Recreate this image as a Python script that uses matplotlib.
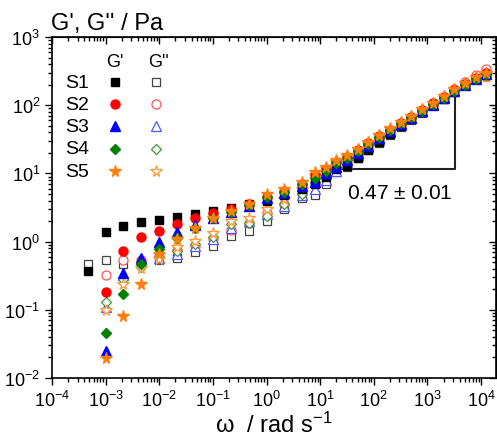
import numpy as np
import matplotlib
matplotlib.use("Agg")
import matplotlib.pyplot as plt

plt.rcParams["font.family"] = ["Liberation Sans", "DejaVu Sans"]
plt.rcParams["mathtext.fontset"] = "custom"
plt.rcParams["mathtext.rm"] = "Liberation Sans"
plt.rcParams["mathtext.it"] = "Liberation Sans:italic"
plt.rcParams["mathtext.default"] = "regular"

nan = np.nan

# angular frequency (rad/s): low-frequency sweep + high-frequency sweep
omega = [4.64e-4, 1e-3, 2.15e-3, 4.64e-3, 1e-2, 2.15e-2, 4.64e-2, 0.1, 0.215, 0.464,
         1.0, 2.15, 4.64,
         7.9, 12.6, 20, 31.6, 50, 79, 126, 200, 316, 501, 794, 1260, 2000, 3160,
         5010, 7940, 12600]

s1_gp = [0.37, 1.37, 1.71, 1.92, 2.07, 2.27, 2.54, 2.84, 3.1, 3.6, 4.0, 4.8, 6.0,
         7.0, 9.0, 11.5, 13.0, 17, 22, 29, 38, 50, 63, 80, 100, 125, 158, 198, 240, 280]
s1_gpp = [0.47, 0.54, 0.47, 0.50, 0.53, 0.57, 0.70, 0.87, 1.2, 1.45, 2.0, 3.0, 4.4,
          4.9, 7.0, 10.5, 12.5, 17, 22, 28, 37, 48, 61, 78, 100, 127, 162, 205, 255, 310]
s2_gp = [nan, 0.18, 0.74, 1.16, 1.45, 1.81, 2.19, 2.63, 3.0, 3.5, 4.5, 5.5, 7.0,
         9.5, 11.5, 14.5, 17.5, 22, 28, 35, 44, 55, 68, 85, 106, 132, 165, 205, 250, 295]
s2_gpp = [nan, 0.32, 0.54, 0.53, 0.62, 0.75, 0.85, 1.1, 1.5, 1.9, 2.6, 3.6, 5.2,
          7.0, 9.0, 12, 15, 19.5, 25, 32, 41, 52, 66, 83, 105, 133, 170, 220, 275, 340]
s3_gp = [nan, 0.025, 0.35, 0.57, 0.98, 1.38, 1.75, 2.2, 2.7, 3.3, 4.3, 5.2, 6.5,
         7.5, 10, 12.5, 15.5, 20, 25.5, 33, 42, 53, 66, 82, 102, 127, 160, 200, 245, 290]
s3_gpp = [nan, 0.11, 0.32, 0.50, 0.58, 0.66, 0.86, 1.1, 1.6, 2.0, 2.5, 3.3, 4.8,
          6.0, 8.0, 11, 14, 18.5, 24, 31, 40, 51, 64, 81, 103, 130, 165, 210, 260, 310]
s4_gp = [nan, 0.046, 0.17, 0.47, 0.78, 1.12, 1.57, 2.2, 2.7, 3.4, 4.5, 5.4, 7.0,
         8.5, 11, 14, 17, 21.5, 27, 34, 43, 54, 67, 83, 103, 128, 160, 200, 245, 285]
s4_gpp = [nan, 0.13, 0.28, 0.42, 0.60, 0.72, 0.92, 1.15, 1.8, 1.9, 2.4, 3.5, 5.0,
          7.5, 9.5, 12.5, 15.5, 20, 26, 33, 42, 53, 66, 83, 104, 130, 165, 205, 250, 280]
s5_gp = [nan, 0.0195, 0.08, 0.24, 0.66, 1.1, 1.6, 2.2, 2.8, 3.6, 5.0, 5.9, 7.6,
         10.4, 12.3, 15.5, 18.5, 23, 29, 37, 46, 57, 70, 87, 108, 135, 170, 215, 260, 300]
s5_gpp = [nan, 0.10, 0.24, 0.41, 0.55, 0.84, 1.03, 1.35, 2.0, 2.2, 3.0, 4.2, 5.9,
          9.5, 11.5, 14.5, 18, 22.5, 28, 36, 45, 56, 70, 87, 108, 135, 170, 210, 250, 270]
s5_gpp_err = [0] * 27 + [15, 30, 45]

samples = ["S1", "S2", "S3", "S4", "S5"]
colors = ["black", "red", "blue", "green", "#ff7f0e"]
open_colors = ["#444444", "#ff5555", "#5555ff", "#3c9a3c", "#ff9933"]
markers = ["s", "o", "^", "D", "*"]
sizes = [6, 6.5, 6.5, 5.4, 8.5]

slope_text = "0.47 $\\pm$ 0.01"

fig = plt.figure(figsize=(4.97, 4.39), dpi=100)
ax = fig.add_axes([52 / 497, 60 / 439, 444 / 497, 341 / 439])

gp_all = [s1_gp, s2_gp, s3_gp, s4_gp, s5_gp]
gpp_all = [s1_gpp, s2_gpp, s3_gpp, s4_gpp, s5_gpp]

# open symbols (G'') first, filled (G') on top
for i in range(5):
    if i == 4:
        ax.errorbar(omega, gpp_all[i], yerr=[s5_gpp_err, [0] * len(omega)], fmt="none",
                    ecolor=open_colors[i], elinewidth=0.8, capsize=3, zorder=2)
    ax.plot(omega, gpp_all[i], linestyle="none", marker=markers[i], markersize=sizes[i],
            markerfacecolor="white", markeredgecolor=open_colors[i], markeredgewidth=0.9,
            zorder=2)
for i in range(5):
    ax.plot(omega, gp_all[i], linestyle="none", marker=markers[i], markersize=sizes[i],
            color=colors[i], markeredgecolor=colors[i], zorder=3)

ax.set_xscale("log")
ax.set_yscale("log")
ax.set_xlim(1e-4, 1.9e4)
ax.set_ylim(1e-2, 1e3)
ax.set_xticks([10.0 ** k for k in range(-4, 5)])
ax.set_yticks([10.0 ** k for k in range(-2, 4)])
ax.tick_params(axis="both", which="both", labelsize=13, width=1, direction="out")
ax.tick_params(axis="both", which="major", length=5)
ax.tick_params(axis="both", which="minor", length=3)
for sp in ax.spines.values():
    sp.set_linewidth(1.2)

# mirrored ticks pointing inward on top and right
top = ax.secondary_xaxis("top")
top.set_xticks([10.0 ** k for k in range(-4, 5)])
top.tick_params(which="both", direction="in", labeltop=False, width=1)
top.tick_params(which="major", length=5)
top.tick_params(which="minor", length=3)
right = ax.secondary_yaxis("right")
right.set_yticks([10.0 ** k for k in range(-2, 4)])
right.tick_params(which="both", direction="in", labelright=False, width=1)
right.tick_params(which="major", length=5)
right.tick_params(which="minor", length=3)

ax.set_xlabel("ω  / rad s$^{-1}$", fontsize=17, labelpad=1)
fig.text(51 / 497, 1 - 24 / 439, "G', G'' / Pa", fontsize=17, ha="left", va="center")

# slope triangle
x0, x1 = 10 ** 1.17, 10 ** 3.52
y0, y1 = 10 ** 1.065, 10 ** 2.21
ax.plot([x0, x1, x1], [y0, y0, y1], color="#222222", linewidth=1.5, zorder=1)
ax.text(0.784, 0.545, slope_text, transform=ax.transAxes, fontsize=15,
        ha="center", va="center")

# hand-made legend
ax.text(0.142, 0.927, "G'", transform=ax.transAxes, fontsize=13, ha="center", va="center")
ax.text(0.239, 0.927, "G''", transform=ax.transAxes, fontsize=13, ha="center", va="center")
rows = [0.8675, 0.803, 0.739, 0.672, 0.607]
for i, name in enumerate(samples):
    ax.text(0.056, rows[i], name, transform=ax.transAxes, fontsize=14,
            ha="center", va="center")
    ax.plot([0.142], [rows[i]], transform=ax.transAxes, linestyle="none",
            marker=markers[i], markersize=sizes[i], color=colors[i])
    ax.plot([0.234], [rows[i]], transform=ax.transAxes, linestyle="none",
            marker=markers[i], markersize=sizes[i], markerfacecolor="white",
            markeredgecolor=open_colors[i], markeredgewidth=0.9)

fig.savefig("out.png", dpi=100)
